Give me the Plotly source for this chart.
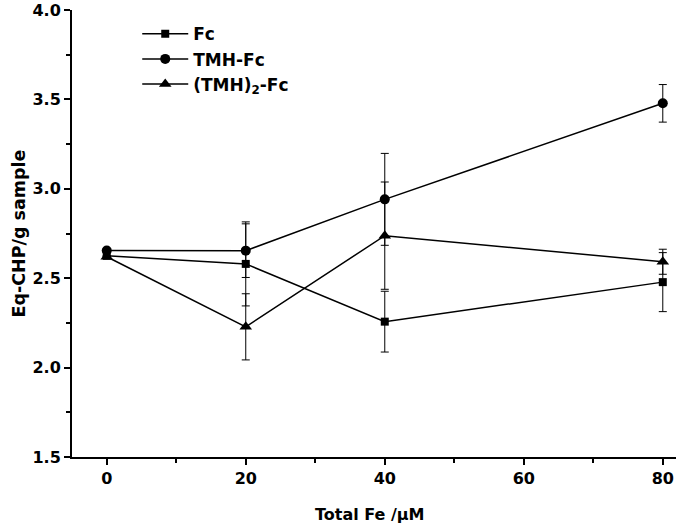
import plotly.graph_objects as go

x_vals = [0, 20, 40, 80]
fc = [2.625, 2.58, 2.257, 2.478]
fc_err = [0.0, 0.235, 0.17, 0.165]
tmh_fc = [2.655, 2.654, 2.941, 3.478]
tmh_fc_err = [0.0, 0.15, 0.257, 0.105]
tmh2_fc = [2.62, 2.228, 2.738, 2.592]
tmh2_fc_err = [0.0, 0.185, 0.30, 0.07]

names = ["Fc", "TMH-Fc", "(TMH)<sub>2</sub>-Fc"]
symbols = ["square", "circle", "triangle-up"]
sizes = [8, 10, 11]

x_ticks = [0, 20, 40, 60, 80]
y_ticks = [1.5, 2.0, 2.5, 3.0, 3.5, 4.0]

FONT = "DejaVu Sans, sans-serif"

fig = go.Figure()
for name, ys, errs, sym, sz in zip(names, [fc, tmh_fc, tmh2_fc],
                                   [fc_err, tmh_fc_err, tmh2_fc_err], symbols, sizes):
    fig.add_trace(go.Scatter(
        x=x_vals, y=ys, name=name, mode="lines+markers", cliponaxis=False,
        line=dict(color="black", width=1.5),
        marker=dict(symbol=sym, size=sz, color="black"),
        error_y=dict(type="data", array=errs, visible=True, color="black",
                     thickness=1, width=4),
    ))

fig.update_layout(
    width=676, height=527,
    margin=dict(l=72, r=0, t=10, b=70),
    paper_bgcolor="white", plot_bgcolor="white",
    font=dict(family=FONT, color="black", size=16, weight="bold"),
    showlegend=True,
    legend=dict(x=0.108, y=0.986, xanchor="left", yanchor="top",
                bgcolor="rgba(0,0,0,0)",
                font=dict(size=17, family=FONT, weight="bold"),
                itemwidth=46, tracegroupgap=2),
    annotations=[
        dict(text="Eq-CHP/g sample", xref="paper", yref="paper",
             x=(18 - 72) / 604, y=0.5, xanchor="center", yanchor="middle",
             textangle=-90, showarrow=False,
             font=dict(size=17.5, family=FONT, weight="bold")),
        dict(text="Total Fe /μM", xref="paper", yref="paper",
             x=(370 - 72) / 604, y=-(514 - 457) / 447, xanchor="center", yanchor="middle",
             showarrow=False, font=dict(size=16, family=FONT, weight="bold")),
    ],
)
fig.update_xaxes(
    range=[-5, 81.9], tickvals=x_ticks,
    showline=True, linecolor="black", linewidth=2, showgrid=False, zeroline=False,
    ticks="outside", ticklen=6, tickwidth=2, tickcolor="black",
    minor=dict(tickvals=[10, 30, 50, 70], ticks="outside", ticklen=4, tickwidth=2, tickcolor="black"),
    tickfont=dict(size=16, family=FONT, weight="bold"), automargin=False,
)
fig.update_yaxes(
    range=[1.5, 4.0], tickvals=y_ticks, tickformat=".1f",
    showline=True, linecolor="black", linewidth=2, showgrid=False, zeroline=False,
    ticks="outside", ticklen=6, tickwidth=2, tickcolor="black",
    minor=dict(tickvals=[1.75, 2.25, 2.75, 3.25, 3.75], ticks="outside", ticklen=4, tickwidth=2, tickcolor="black"),
    tickfont=dict(size=16, family=FONT, weight="bold"), automargin=False,
)

fig.write_html(
    "out.html",
    config={"displayModeBar": False},
    post_script="document.body.style.margin='0';document.body.style.overflow='hidden';",
)
